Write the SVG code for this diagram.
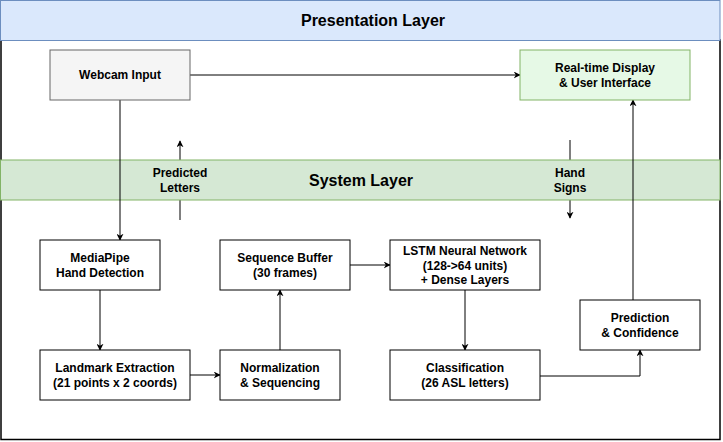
<svg xmlns="http://www.w3.org/2000/svg" width="723" height="442" viewBox="0 0 723 442">
<defs>
<marker id="ah" viewBox="0 0 10 10" refX="9" refY="5" markerWidth="7" markerHeight="7" markerUnits="userSpaceOnUse" orient="auto">
<path d="M0,0 L10,5 L0,10 L3,5 Z" fill="#000"/>
</marker>
<style>
text{font-family:"Liberation Sans",Arial,sans-serif;font-size:12px;fill:#000;text-anchor:middle}
.b{font-weight:bold}
.title{font-size:16px;font-weight:bold}
.box{fill:#fff;stroke:#000;stroke-width:1}
.conn{fill:none;stroke:#000;stroke-width:1}
.arr{marker-end:url(#ah)}
</style>
</defs>
<rect width="723" height="442" fill="#fff"/>
<g id="frame">
<rect x="1" y="40" width="719" height="399.5" fill="#fff" stroke="#000" stroke-width="1.5"/>
</g>
<g id="presentation-layer">
<rect x="0.5" y="0.5" width="719.5" height="40" fill="#dae8fc" stroke="#6c8ebf"/>
<text class="title" x="373" y="25.5">Presentation Layer</text>
</g>
<g id="connectors-behind">
<line class="conn arr" x1="180" y1="220" x2="180" y2="141"/>
<line class="conn arr" x1="570" y1="140" x2="570" y2="218"/>
</g>
<g id="system-layer">
<rect x="0.5" y="160" width="719.5" height="40" fill="#d5e8d4" stroke="#82b366"/>
<text class="title" x="361" y="186">System Layer</text>
<text class="b" x="180" y="177">Predicted</text>
<text class="b" x="180" y="192">Letters</text>
<text class="b" x="570" y="177">Hand</text>
<text class="b" x="570" y="192">Signs</text>
</g>
<g id="connectors">
<line class="conn arr" x1="190" y1="75" x2="520" y2="75"/>
<line class="conn arr" x1="120" y1="100" x2="120" y2="240"/>
<line class="conn arr" x1="100" y1="290" x2="100" y2="350"/>
<line class="conn arr" x1="190" y1="375" x2="220" y2="375"/>
<line class="conn arr" x1="280" y1="350" x2="280" y2="290"/>
<line class="conn arr" x1="350" y1="265" x2="390" y2="265"/>
<line class="conn arr" x1="465" y1="290" x2="465" y2="350"/>
<polyline class="conn arr" points="540,376 640,376 640,350"/>
<line class="conn arr" x1="633" y1="300" x2="633" y2="100"/>
</g>
<g id="webcam-input">
<rect x="50" y="50" width="140" height="50" fill="#f5f5f5" stroke="#666"/>
<text class="b" x="120" y="79">Webcam Input</text>
</g>
<g id="display">
<rect x="520" y="50" width="170" height="50" fill="#e6f9e6" stroke="#82b366"/>
<text class="b" x="605" y="72">Real-time Display</text>
<text class="b" x="605" y="87">&amp; User Interface</text>
</g>
<g id="mediapipe">
<rect class="box" x="40" y="240" width="120" height="50"/>
<text class="b" x="100" y="262">MediaPipe</text>
<text class="b" x="100" y="277">Hand Detection</text>
</g>
<g id="landmark">
<rect class="box" x="40" y="350" width="150" height="50"/>
<text class="b" x="115" y="372">Landmark Extraction</text>
<text class="b" x="115" y="387">(21 points x 2 coords)</text>
</g>
<g id="normalization">
<rect class="box" x="220" y="350" width="120" height="50"/>
<text class="b" x="280" y="372">Normalization</text>
<text class="b" x="280" y="387">&amp; Sequencing</text>
</g>
<g id="sequence-buffer">
<rect class="box" x="220" y="240" width="130" height="50"/>
<text class="b" x="285" y="262">Sequence Buffer</text>
<text class="b" x="285" y="277">(30 frames)</text>
</g>
<g id="lstm">
<rect class="box" x="390" y="240" width="150" height="50"/>
<text class="b" x="465" y="255">LSTM Neural Network</text>
<text class="b" x="465" y="270">(128-&gt;64 units)</text>
<text class="b" x="465" y="284">+ Dense Layers</text>
</g>
<g id="classification">
<rect class="box" x="390" y="350" width="150" height="50"/>
<text class="b" x="465" y="372">Classification</text>
<text class="b" x="465" y="387">(26 ASL letters)</text>
</g>
<g id="prediction">
<rect class="box" x="580" y="300" width="120" height="50"/>
<text class="b" x="640" y="322">Prediction</text>
<text class="b" x="640" y="337">&amp; Confidence</text>
</g>
</svg>
